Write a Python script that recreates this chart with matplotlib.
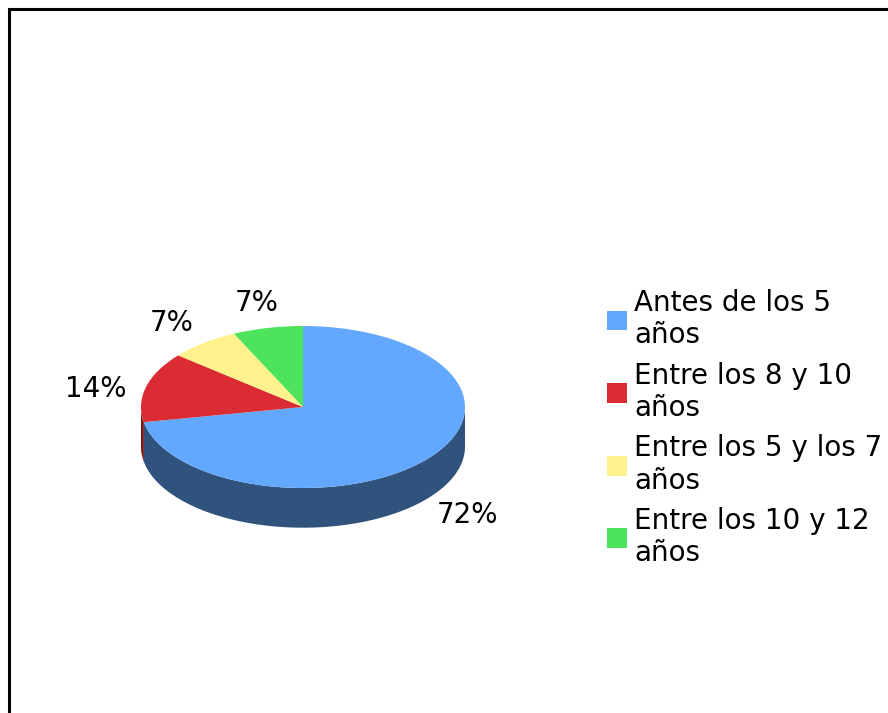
import numpy as np
import matplotlib.pyplot as plt
from matplotlib.patches import Polygon, Rectangle

labels = ["Antes de los 5\naños", "Entre los 8 y 10\naños",
          "Entre los 5 y los 7\naños", "Entre los 10 y 12\naños"]
values = [72, 14, 7, 7]
colors = ["#63A8FF", "#DC2C33", "#FFF28C", "#4DE35A"]
side_colors = ["#30537D", "#7A1A1D", "#8C8650", "#2A7A32"]
depth = 0.49

fig = plt.figure(figsize=(8.88, 7.13), dpi=100)
fig.patches.append(Rectangle((8.5 / 888, -0.05), 1.2, (713 - 9) / 713 + 0.05,
                             transform=fig.transFigure, fill=False,
                             lw=2.2, ec="black"))

ax = fig.add_axes([60 / 888, 144 / 713, 486 / 888, 283.5 / 713])
wedges, texts, autotexts = ax.pie(values, colors=colors, startangle=90,
                                  counterclock=False, autopct="%1.0f%%",
                                  pctdistance=1.32,
                                  textprops=dict(fontsize=20),
                                  wedgeprops=dict(linewidth=0))
ax.set_aspect("auto")
ax.set_xlim(-1.5, 1.5)
ax.set_ylim(-2, 1.5)

# side of the 3d pie
bounds = 90 - np.concatenate([[0], np.cumsum(values)]) / sum(values) * 360
for i in range(len(values)):
    t = np.radians(np.linspace(bounds[i + 1], bounds[i], 400))
    t = t[np.sin(t) <= 0]
    if len(t) < 2:
        continue
    top = np.column_stack([np.cos(t), np.sin(t)])
    bot = np.column_stack([np.cos(t), np.sin(t) - depth])[::-1]
    ax.add_patch(Polygon(np.vstack([top, bot]), closed=True,
                         fc=side_colors[i], ec="none", zorder=0.5))

for txt in autotexts:
    x, y = txt.get_position()
    if y < 0:
        txt.set_position((x, y - depth))
    elif y < 0.5:
        txt.set_position((x, y - 0.1))

fig.legend(wedges, labels, loc="upper left",
           bbox_to_anchor=(607 / 888, 1 - 289 / 713), frameon=False,
           fontsize=20, handlelength=0.72, handleheight=0.72,
           handletextpad=0.25, labelspacing=0.44, borderpad=0,
           borderaxespad=0)

fig.savefig("out.png", dpi=100)
